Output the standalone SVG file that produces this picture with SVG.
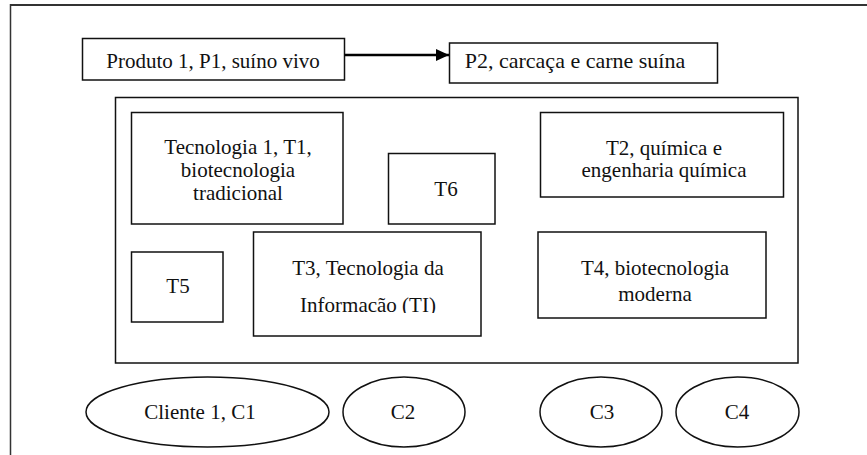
<svg xmlns="http://www.w3.org/2000/svg" width="867" height="455" viewBox="0 0 867 455" font-family="Liberation Serif, Times New Roman, serif">
<style>
.box{fill:#fff;stroke:#111;stroke-width:1.5}
.frame{stroke:#333;fill:none}
.t{font-size:21px;fill:#111;text-anchor:middle}
.conn{stroke:#000;stroke-width:2.5;fill:none}
</style>
<defs>
<marker id="arr" markerUnits="userSpaceOnUse" markerWidth="14" markerHeight="14" refX="13" refY="7" orient="auto">
<path d="M0,1 L13,7 L0,13 Z" fill="#000"/>
</marker>
<clipPath id="clipT3"><rect x="253" y="232" width="228" height="81"/></clipPath>
</defs>
<rect width="867" height="455" fill="#fff"/>
<g id="frame">
<line class="frame" x1="10" y1="5" x2="867" y2="5" stroke-width="2"/>
<line class="frame" x1="10.5" y1="4" x2="10.5" y2="455" stroke-width="1.5"/>
</g>
<g id="P1"><rect class="box" x="82.5" y="38.5" width="262" height="41.5"/><text class="t" x="213" y="68">Produto 1, P1, suíno vivo</text></g>
<g id="P2"><rect class="box" x="449.5" y="43" width="268" height="40"/><text class="t" x="575" y="68" style="font-size:22px">P2, carcaça e carne suína</text></g>
<g id="connectors"><line class="conn" x1="344.5" y1="55" x2="449" y2="55" marker-end="url(#arr)"/></g>
<g id="tech"><rect class="box" x="115.5" y="97.5" width="682.5" height="265.5"/></g>
<g id="T1"><rect class="box" x="131.5" y="112.5" width="211.5" height="111.5"/><text class="t" x="238" y="154">Tecnologia 1, T1,</text><text class="t" x="238" y="177">biotecnologia</text><text class="t" x="238" y="200">tradicional</text></g>
<g id="T6"><rect class="box" x="388.5" y="153.5" width="106.5" height="70.5"/><text class="t" x="446" y="196">T6</text></g>
<g id="T2"><rect class="box" x="540.5" y="112.5" width="243" height="84.5"/><text class="t" x="664" y="155">T2, química e</text><text class="t" x="664" y="177">engenharia química</text></g>
<g id="T5"><rect class="box" x="131.5" y="252" width="91.5" height="70"/><text class="t" x="178" y="293">T5</text></g>
<g id="T3"><rect class="box" x="253.5" y="232" width="227.5" height="104"/><g clip-path="url(#clipT3)"><text class="t" x="368" y="275">T3, Tecnologia da</text><text class="t" x="368" y="312">Informacão (TI)</text></g></g>
<g id="T4"><rect class="box" x="538" y="232" width="228" height="86"/><text class="t" x="655" y="275">T4, biotecnologia</text><text class="t" x="655" y="301">moderna</text></g>
<g id="C1"><ellipse class="box" cx="207.5" cy="412" rx="121.5" ry="35"/><text class="t" x="200" y="419">Cliente 1, C1</text></g>
<g id="C2"><ellipse class="box" cx="404" cy="412" rx="61" ry="35"/><text class="t" x="403" y="419">C2</text></g>
<g id="C3"><ellipse class="box" cx="601" cy="412" rx="61" ry="35"/><text class="t" x="602" y="419">C3</text></g>
<g id="C4"><ellipse class="box" cx="737.5" cy="412" rx="61.5" ry="35"/><text class="t" x="737" y="419">C4</text></g>
</svg>
